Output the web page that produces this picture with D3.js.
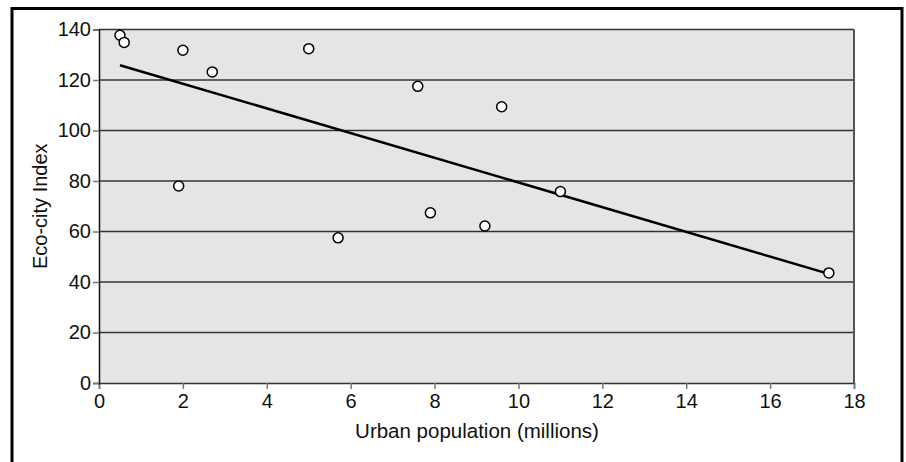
<!DOCTYPE html>
<html>
<head>
    <script src="https://d3js.org/d3.v7.min.js"></script>
    <style>
        body { margin: 0; background: #fff; }
        text { font-family: "Liberation Sans", Arial, Helvetica, sans-serif; }
    </style>
</head>
<body>
    <div id="scatter"></div>
<script>
    // urban population (millions) and eco-city index
    const population = [0.5, 0.6, 2.0, 2.7, 5.0, 7.6, 9.6, 1.9, 5.7, 7.9, 9.2, 11.0, 17.4];
    const ecoIndex = [137.7, 134.9, 131.8, 123.2, 132.4, 117.5, 109.4, 78, 57.5, 67.4, 62.2, 75.8, 43.6];
    const xTicks = [0, 2, 4, 6, 8, 10, 12, 14, 16, 18];
    const yTicks = [0, 20, 40, 60, 80, 100, 120, 140];

    const W = 906, H = 462;
    const margin = {top: 29.5, right: 52, bottom: 79, left: 99},
        width = W - margin.left - margin.right,
        height = H - margin.top - margin.bottom;

    const data = population.map((p, i) => ({x: p, y: ecoIndex[i]}));

    const svg = d3.select("#scatter")
        .append("svg")
        .attr("width", W)
        .attr("height", H);

    // outer frame (open at the bottom)
    svg.append("path")
        .attr("d", `M12,${H + 5} L12,8.5 L902,8.5 L902,${H + 5}`)
        .attr("fill", "none")
        .attr("stroke", "#000")
        .attr("stroke-width", 3);

    const g = svg.append("g")
        .attr("transform", `translate(${margin.left},${margin.top})`);

    const x = d3.scaleLinear().domain([0, 18]).range([0, width]);
    const y = d3.scaleLinear().domain([0, 140]).range([height, 0]);

    // plot background
    g.append("rect")
        .attr("width", width)
        .attr("height", height)
        .attr("fill", "#e4e5e7");

    // horizontal gridlines
    g.selectAll(".grid")
        .data(yTicks.filter(t => t > 0))
        .join("line")
        .attr("x1", 0)
        .attr("x2", width)
        .attr("y1", d => y(d))
        .attr("y2", d => y(d))
        .attr("stroke", "#333")
        .attr("stroke-width", 1.5);

    // right edge of plot
    g.append("line")
        .attr("x1", width).attr("x2", width)
        .attr("y1", 0).attr("y2", height)
        .attr("stroke", "#555")
        .attr("stroke-width", 2);

    // X Axis
    const xAxis = g.append("g")
        .attr("transform", `translate(0, ${height})`)
        .call(d3.axisBottom(x).tickValues(xTicks).tickSize(6).tickPadding(5));
    xAxis.select(".domain").attr("stroke", "#333").attr("stroke-width", 1.5);
    xAxis.selectAll(".tick line").attr("stroke", "#777").attr("stroke-width", 1.5);
    xAxis.selectAll("text").attr("font-size", 20).attr("fill", "#111");

    // Y Axis
    const yAxis = g.append("g")
        .call(d3.axisLeft(y).tickValues(yTicks).tickSize(6).tickPadding(2));
    yAxis.select(".domain").attr("stroke", "#111").attr("stroke-width", 1.5);
    yAxis.selectAll(".tick line").attr("stroke", "#777").attr("stroke-width", 1.5);
    yAxis.selectAll("text").attr("font-size", 20).attr("fill", "#111");

    // trend line (least squares fit of the points)
    const mx = d3.mean(population), my = d3.mean(ecoIndex);
    const slope = d3.sum(data, d => (d.x - mx) * (d.y - my)) / d3.sum(data, d => (d.x - mx) ** 2);
    const intercept = my - slope * mx;
    const ends = d3.extent(population);
    g.append("line")
        .attr("x1", x(ends[0])).attr("y1", y(intercept + slope * ends[0]))
        .attr("x2", x(ends[1])).attr("y2", y(intercept + slope * ends[1]))
        .attr("stroke", "#000")
        .attr("stroke-width", 2.5);

    // points
    g.selectAll("circle")
        .data(data)
        .join("circle")
        .attr("cx", d => x(d.x))
        .attr("cy", d => y(d.y))
        .attr("r", 5)
        .attr("fill", "#fff")
        .attr("stroke", "#000")
        .attr("stroke-width", 1.5);

    // axis titles
    svg.append("text")
        .attr("x", 477)
        .attr("y", 438)
        .attr("text-anchor", "middle")
        .attr("font-size", 20.5)
        .attr("fill", "#111")
        .text("Urban population (millions)");

    svg.append("text")
        .attr("transform", `translate(47, ${margin.top + height / 2}) rotate(-90)`)
        .attr("text-anchor", "middle")
        .attr("font-size", 20)
        .attr("fill", "#111")
        .text("Eco-city Index");
</script>
</body>
</html>
